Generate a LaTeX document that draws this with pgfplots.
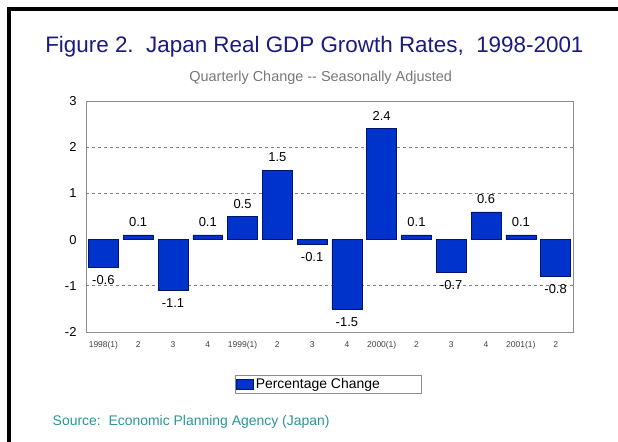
\documentclass[border=0pt]{standalone}
\usepackage{pgfplots}
\pgfplotsset{compat=1.18}
\usepackage{fontspec}
\setmainfont{Liberation Sans}
\definecolor{barblue}{RGB}{0,51,204}
\definecolor{baredge}{RGB}{0,20,110}
\definecolor{titleblue}{RGB}{26,26,128}
\definecolor{srcteal}{RGB}{40,150,150}
\definecolor{subgray}{RGB}{120,120,120}
\definecolor{framegray}{RGB}{140,140,140}
\begin{document}
\begin{tikzpicture}
\useasboundingbox (0bp,0bp) rectangle (618bp,442bp);
\fill[white] (0bp,0bp) rectangle (618bp,442bp);
\fill[black] (7bp,0bp) rectangle (11bp,435bp);
\fill[black] (7bp,431bp) rectangle (618bp,435bp);
\node[text=titleblue, font=\fontsize{22.5}{26}\selectfont, anchor=base, inner sep=0pt] at (314.4bp,389.5bp) {Figure 2.\ \ Japan Real GDP Growth Rates,\ \ 1998-2001};
\node[text=subgray, font=\fontsize{14.5}{17}\selectfont, anchor=base, inner sep=0pt] at (320.7bp,360bp) {Quarterly Change -{}- Seasonally Adjusted};
\node[text=srcteal, font=\fontsize{14}{17}\selectfont, anchor=base west, inner sep=0pt] at (52.5bp,17bp) {Source:\ \ Economic Planning Agency (Japan)};
\begin{axis}[
  at={(86bp,110bp)}, anchor=south west,
  scale only axis, width=487bp, height=231bp,
  xmin=-0.5, xmax=13.5, ymin=-2, ymax=3,
  ybar, bar width=0.86, bar shift=0pt,
  axis line style={framegray, line width=0.8bp},
  xtick={0,...,13},
  xticklabels={1998(1),2,3,4,1999(1),2,3,4,2000(1),2,3,4,2001(1),2},
  xticklabel style={font=\fontsize{8.5}{10}\selectfont, text=black!75, yshift=-6bp},
  ytick={-2,-1,0,1,2,3},
  yticklabel style={font=\fontsize{13}{15}\selectfont, xshift=-6bp},
  /pgf/number format/assume math mode=true,
  major tick length=0pt,
  extra y ticks={-1,1,2},
  extra y tick labels={},
  extra y tick style={grid=major, major grid style={gray, dashed, line width=0.6bp}},
  nodes near coords,
  nodes near coords align=vertical,
  nodes near coords style={font=\fontsize{13}{15}\selectfont, inner ysep=8bp, /pgf/number format/.cd, fixed, fixed zerofill, precision=1, assume math mode=true},
  legend style={at={(0.497,-0.227)}, anchor=center, draw=framegray, font=\fontsize{14}{16}\selectfont, inner xsep=1bp, inner ysep=1bp},
  legend image code/.code={\fill[barblue, draw=baredge] (0bp,-5bp) rectangle (17bp,5bp);},
]
\addplot[fill=barblue, draw=baredge, line width=0.5bp] coordinates {
(0,-0.6) (1,0.1) (2,-1.1) (3,0.1) (4,0.5) (5,1.5) (6,-0.1)
(7,-1.5) (8,2.4) (9,0.1) (10,-0.7) (11,0.6) (12,0.1) (13,-0.8)};
\addlegendentry{\makebox[162bp][l]{Percentage Change}}
\end{axis}
\end{tikzpicture}
\end{document}
